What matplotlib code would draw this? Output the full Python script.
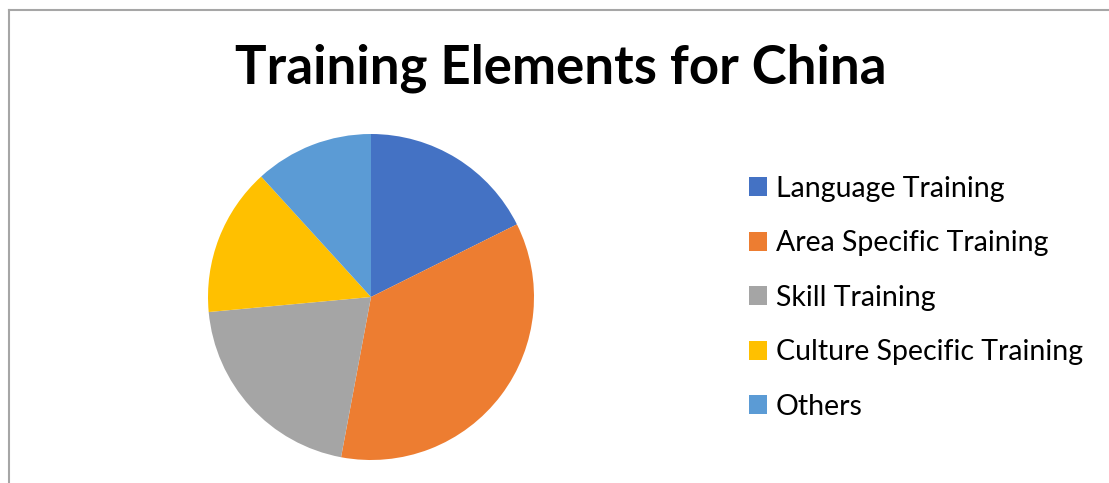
import matplotlib.pyplot as plt
from matplotlib.lines import Line2D

labels = ['Language Training', 'Area Specific Training', 'Skill Training',
          'Culture Specific Training', 'Others']
values = [6, 12, 7, 5, 4]
colors = ['#4472C4', '#ED7D31', '#A5A5A5', '#FFC000', '#5B9BD5']

plt.rcParams['font.family'] = ['Lato', 'DejaVu Sans']

W, H = 1109, 483
fig = plt.figure(figsize=(W / 100, H / 100), dpi=100)

# khung viền của biểu đồ
fig.add_artist(Line2D([8.5 / W, 8.5 / W], [0, 1 - 10 / H], color='#A6A6A6', lw=1.5))
fig.add_artist(Line2D([8.5 / W, 1], [1 - 10 / H, 1 - 10 / H], color='#A6A6A6', lw=1.5))

r = 163
cx, cy = 371, 297
ax = fig.add_axes([(cx - r) / W, (H - cy - r) / H, 2 * r / W, 2 * r / H])
wedges, _ = ax.pie(values, colors=colors, startangle=90, counterclock=False,
                   wedgeprops=dict(linewidth=0))
ax.set_xlim(-1, 1)
ax.set_ylim(-1, 1)
ax.set_aspect('equal')

fig.text(561 / W, 1 - 68 / H, 'Training Elements for China', ha='center', va='center',
         fontsize=38, fontweight='bold')

fig.legend(wedges, labels, loc='upper left', bbox_to_anchor=(723 / W, 1 - 150 / H),
           frameon=False, fontsize=20.5, handlelength=0.65, handleheight=0.65,
           handletextpad=0.3, labelspacing=1.0)

fig.savefig('out.png', dpi=100)
